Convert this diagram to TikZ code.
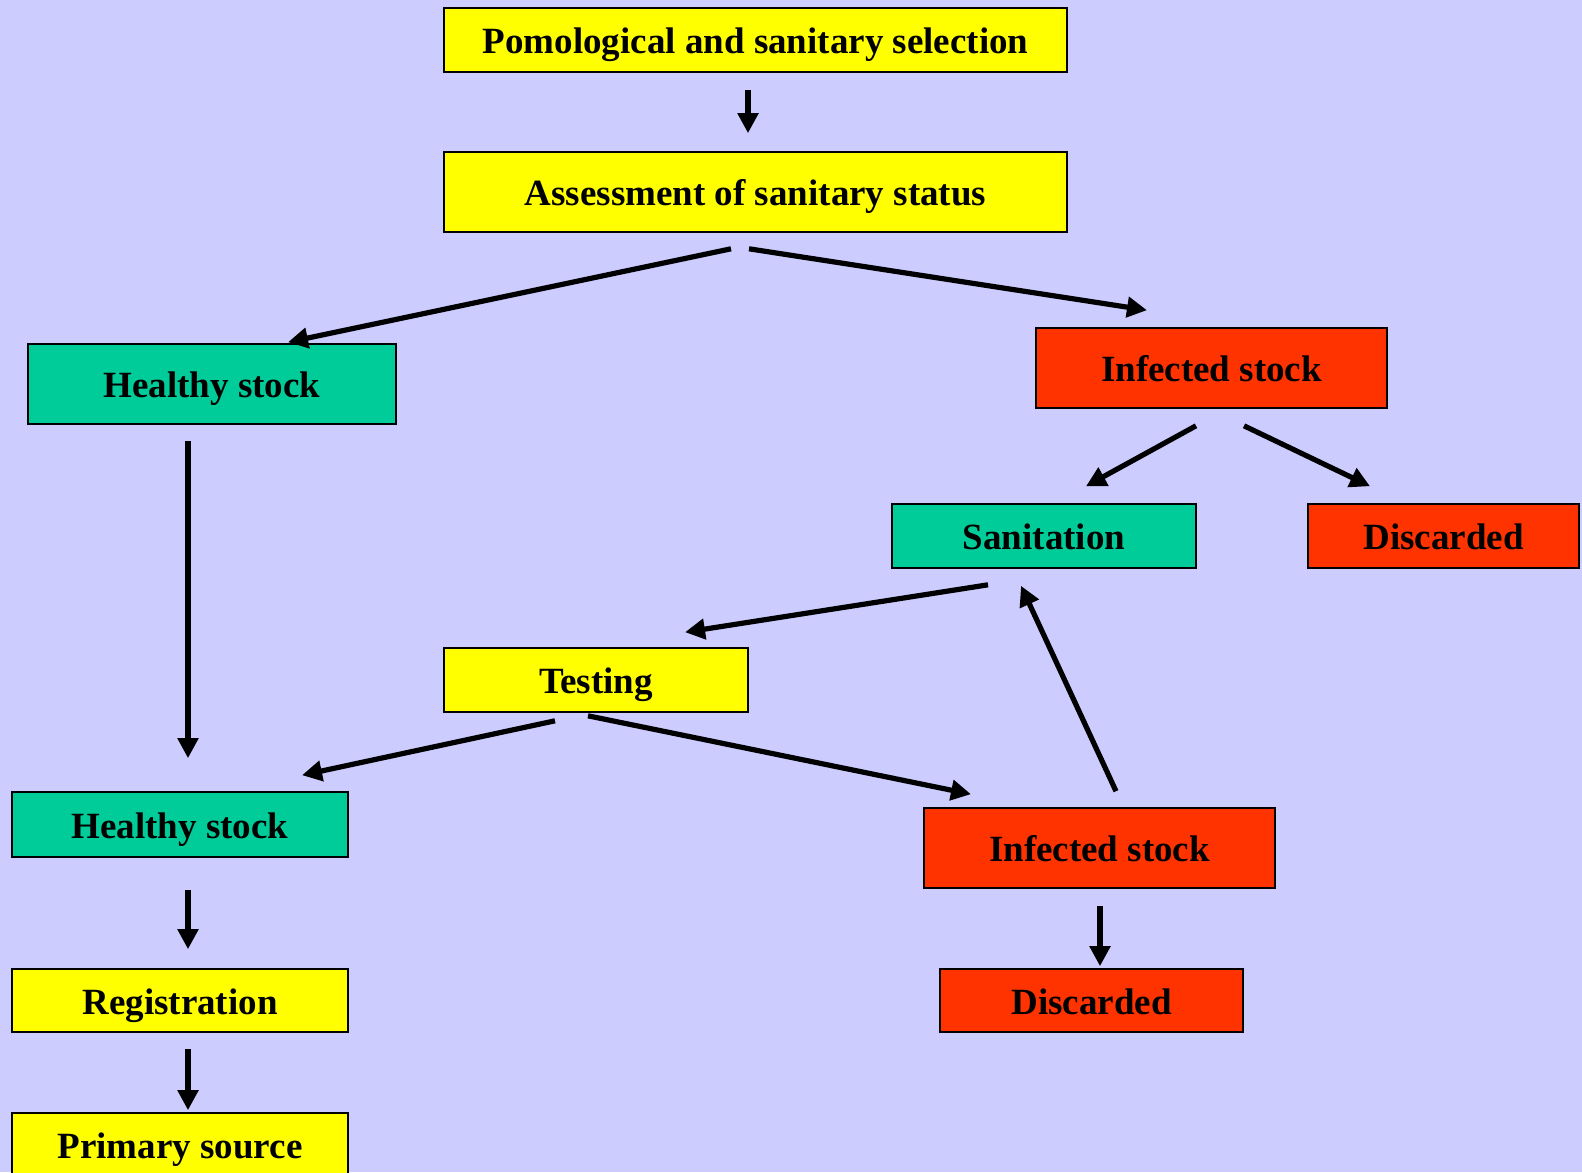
\documentclass[tikz,border=0pt]{standalone}
\usetikzlibrary{arrows.meta}
\usepackage{fontspec}
\setmainfont{Liberation Serif}

\definecolor{bgblue}{RGB}{204,204,255}
\definecolor{boxyellow}{RGB}{255,255,0}
\definecolor{boxgreen}{RGB}{0,204,153}
\definecolor{boxred}{RGB}{255,51,0}

\begin{document}
\begin{tikzpicture}[x=0.5pt,y=-0.5pt,
	box/.style={draw=black,line width=0.8pt,inner sep=0pt,
		text height=13.8pt,text depth=0pt,
		font=\fontsize{18.5}{22}\selectfont\bfseries},
	yellowbox/.style={box,fill=boxyellow},
	greenbox/.style={box,fill=boxgreen},
	redbox/.style={box,fill=boxred},
	flow/.style={line width=2.6pt,-{Triangle[length=10pt,width=10pt]}}]

	\fill[bgblue] (0,0) rectangle (1582,1172);
	\useasboundingbox (0,0) rectangle (1582,1172);

	\node[yellowbox,minimum width=311.5pt,minimum height=32pt] (pomo) at (755.5,40) {Pomological and sanitary selection};
	\node[yellowbox,minimum width=311.5pt,minimum height=40pt] (assess) at (755.5,192) {Assessment of sanitary status};

	\node[greenbox,minimum width=184pt,minimum height=40pt] (healthyA) at (212,384) {Healthy stock};
	\node[redbox,minimum width=175.5pt,minimum height=40pt] (infectA) at (1211.5,368) {Infected stock};

	\node[greenbox,minimum width=152pt,minimum height=32pt] (sanit) at (1044,536) {Sanitation};
	\node[redbox,minimum width=135.5pt,minimum height=32pt] (discA) at (1443.5,536) {Discarded};

	\node[yellowbox,minimum width=152pt,minimum height=32pt] (testing) at (596,680) {Testing};

	\node[greenbox,minimum width=168pt,minimum height=32.5pt] (healthyB) at (180,824.5) {Healthy stock};
	\node[redbox,minimum width=175.5pt,minimum height=40pt] (infectB) at (1099.5,848) {Infected stock};

	\node[yellowbox,minimum width=168pt,minimum height=31.5pt] (regist) at (180,1000.5) {Registration};
	\node[redbox,minimum width=151.5pt,minimum height=31.5pt] (discB) at (1091.5,1000.5) {Discarded};

	\node[yellowbox,minimum width=168pt,minimum height=32pt] (primary) at (180,1145) {Primary source};

	\draw[flow] ([shift={(-7.5,17)}]pomo.south) -- ([shift={(-7.5,-18)}]assess.north);
	\draw[flow] ([shift={(-24.5,16)}]assess.south) -- ([shift={(76,-1)}]healthyA.north);
	\draw[flow] ([shift={(-6.5,16)}]assess.south) -- ([shift={(-64.5,-17)}]infectA.north);
	\draw[flow] ([shift={(-24,16)}]healthyA.south) -- ([shift={(8,-33)}]healthyB.north);
	\draw[flow] ([shift={(-15.5,17)}]infectA.south) -- ([shift={(42,-17)}]sanit.north);
	\draw[flow] ([shift={(32.5,17)}]infectA.south) -- ([shift={(-73.5,-17)}]discA.north);
	\draw[flow] ([shift={(-56,16)}]sanit.south) -- ([shift={(89,-15)}]testing.north);
	\draw[flow] ([shift={(16.5,-16)}]infectB.north) -- ([shift={(-23,17)}]sanit.south);
	\draw[flow] ([shift={(-41,8)}]testing.south) -- ([shift={(122,-16)}]healthyB.north);
	\draw[flow] ([shift={(-8,3)}]testing.south) -- ([shift={(-128.5,-13)}]infectB.north);
	\draw[flow] ([shift={(8,32)}]healthyB.south) -- ([shift={(8,-19)}]regist.north);
	\draw[flow] ([shift={(0.5,17)}]infectB.south) -- ([shift={(8.5,-2)}]discB.north);
	\draw[flow] ([shift={(8,16)}]regist.south) -- ([shift={(8,-2)}]primary.north);

\end{tikzpicture}
\end{document}
